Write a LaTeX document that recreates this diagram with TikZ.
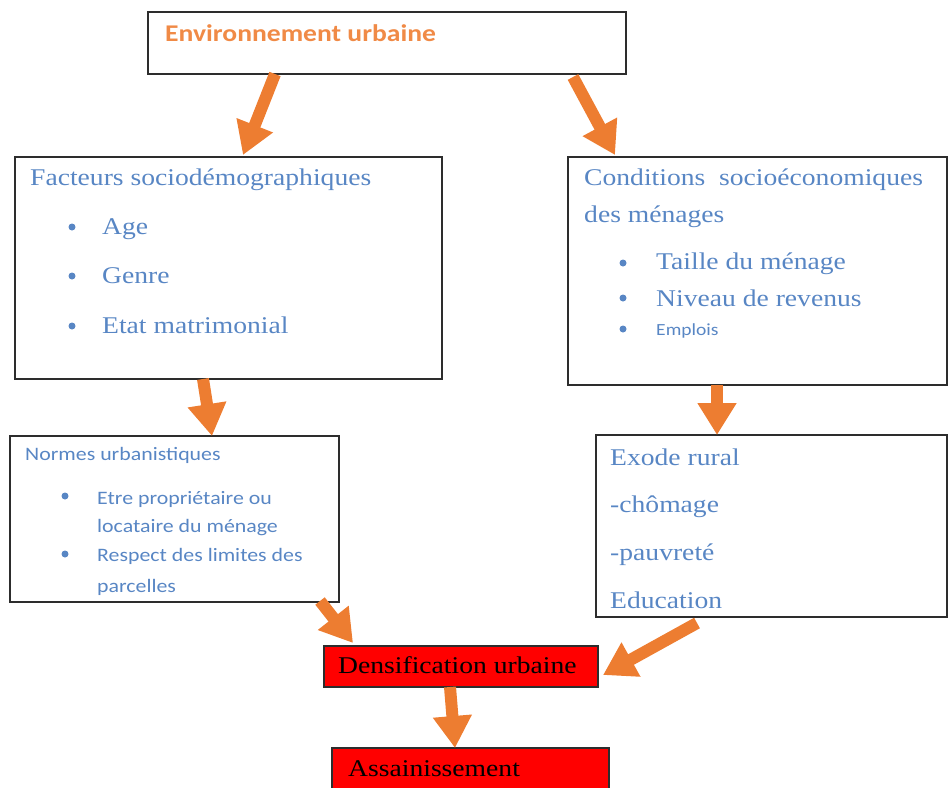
\documentclass[tikz,border=0pt]{standalone}
\usepackage{fontspec}
\setmainfont{Liberation Serif}[FakeStretch=1.15]
\newfontfamily\calib{Carlito}[FakeStretch=1.15]
\usetikzlibrary{arrows.meta}
\definecolor{txtblue}{RGB}{88,134,196}
\definecolor{arrorange}{RGB}{237,125,49}
\definecolor{titorange}{RGB}{240,138,70}
\definecolor{boxline}{RGB}{45,45,45}
\tikzset{
  box/.style={draw=boxline, line width=1.3pt, inner sep=0pt, outer sep=0pt, anchor=north west},
  redbox/.style={box, fill=red},
  stxt/.style={anchor=base west, inner sep=0pt, text=txtblue, font=\fontsize{24}{28}\selectfont},
  ctxt/.style={anchor=base west, inner sep=0pt, text=txtblue, font=\calib\fontsize{19}{23}\selectfont},
  bul/.style={circle, fill=txtblue, inner sep=0pt, minimum size=7pt},
  bigarrow/.style={draw=arrorange, line width=12pt, -{Triangle[length=32pt,width=37pt]}}
}
\begin{document}
\begin{tikzpicture}[x=1pt,y=-1pt]
\useasboundingbox (0,0) rectangle (949,787);
% boxes
\node[box, minimum width=478pt, minimum height=62pt] (top) at (148,12) {};
\node[box, minimum width=427pt, minimum height=222pt] (fact) at (15,157) {};
\node[box, minimum width=379pt, minimum height=228pt] (cond) at (568,157) {};
\node[box, minimum width=329pt, minimum height=166pt] (norm) at (10,436) {};
\node[box, minimum width=351pt, minimum height=182pt] (exode) at (596,435) {};
\node[redbox, minimum width=274pt, minimum height=41pt] (dens) at (324,646) {};
\node[redbox, minimum width=277pt, minimum height=46pt] (assain) at (332,748) {};
% texts
\node[anchor=base west, inner sep=0pt, text=titorange, font=\calib\bfseries\fontsize{24}{28}\selectfont] (ttop) at (165,41) {Environnement urbaine};

\node[stxt] (f0) at (30,185) {Facteurs sociodémographiques};
\node[bul] (fb1) at (72,227) {};
\node[stxt] (f1) at (102,234) {Age};
\node[bul] (fb2) at (72,276) {};
\node[stxt] (f2) at (102,283) {Genre};
\node[bul] (fb3) at (72,326) {};
\node[stxt] (f3) at (102,333) {Etat matrimonial};

\node[stxt] (c0) at (584,185) {Conditions\ \ socioéconomiques};
\node[stxt] (c1) at (584,222) {des ménages};
\node[bul] (cb1) at (623,263) {};
\node[stxt] (c2) at (656,269) {Taille du ménage};
\node[bul] (cb2) at (623,298) {};
\node[stxt] (c3) at (656,306) {Niveau de revenus};
\node[bul] (cb3) at (623,329) {};
\node[anchor=base west, inner sep=0pt, text=txtblue, font=\calib\fontsize{17}{20}\selectfont] (c4) at (656,335) {Emplois};

\node[ctxt] (n0) at (25,460) {Normes urbanistiques};
\node[bul] (nb1) at (65,496) {};
\node[ctxt] (n1) at (97,504) {Etre propriétaire ou};
\node[ctxt] (n2) at (97,532) {locataire du ménage};
\node[bul] (nb2) at (65,554) {};
\node[ctxt] (n3) at (97,561) {Respect des limites des};
\node[ctxt] (n4) at (97,592) {parcelles};

\node[stxt] (e0) at (610,465) {Exode rural};
\node[stxt] (e1) at (610,512) {-chômage};
\node[stxt] (e2) at (610,560) {-pauvreté};
\node[stxt] (e3) at (610,608) {Education};

\node[anchor=base west, inner sep=0pt, text=black, font=\fontsize{24}{28}\selectfont] (dtxt) at (338,673) {Densification urbaine};
\node[anchor=base west, inner sep=0pt, text=black, font=\fontsize{24}{28}\selectfont] (atxt) at (348,776) {Assainissement};
% arrows
\draw[bigarrow] ([xshift=127pt]top.south west) -- ([xshift=228pt,yshift=2pt]fact.north west);
\draw[bigarrow] ([xshift=-53pt,yshift=-3pt]top.south east) -- ([xshift=47pt,yshift=2pt]cond.north west);
\draw[bigarrow] ([xshift=188pt]fact.south west) -- ([xshift=202pt]norm.north west);
\draw[bigarrow] ([xshift=149pt]cond.south west) -- ([xshift=121pt]exode.north west);
\draw[bigarrow] ([xshift=-19pt,yshift=1pt]norm.south east) -- ([xshift=29pt,yshift=3pt]dens.north west);
\draw[bigarrow] ([xshift=101pt,yshift=-6pt]exode.south west) -- ([xshift=5pt,yshift=12pt]dens.south east);
\draw[bigarrow] ([xshift=126pt]dens.south west) -- ([xshift=123pt]assain.north west);
\end{tikzpicture}
\end{document}
